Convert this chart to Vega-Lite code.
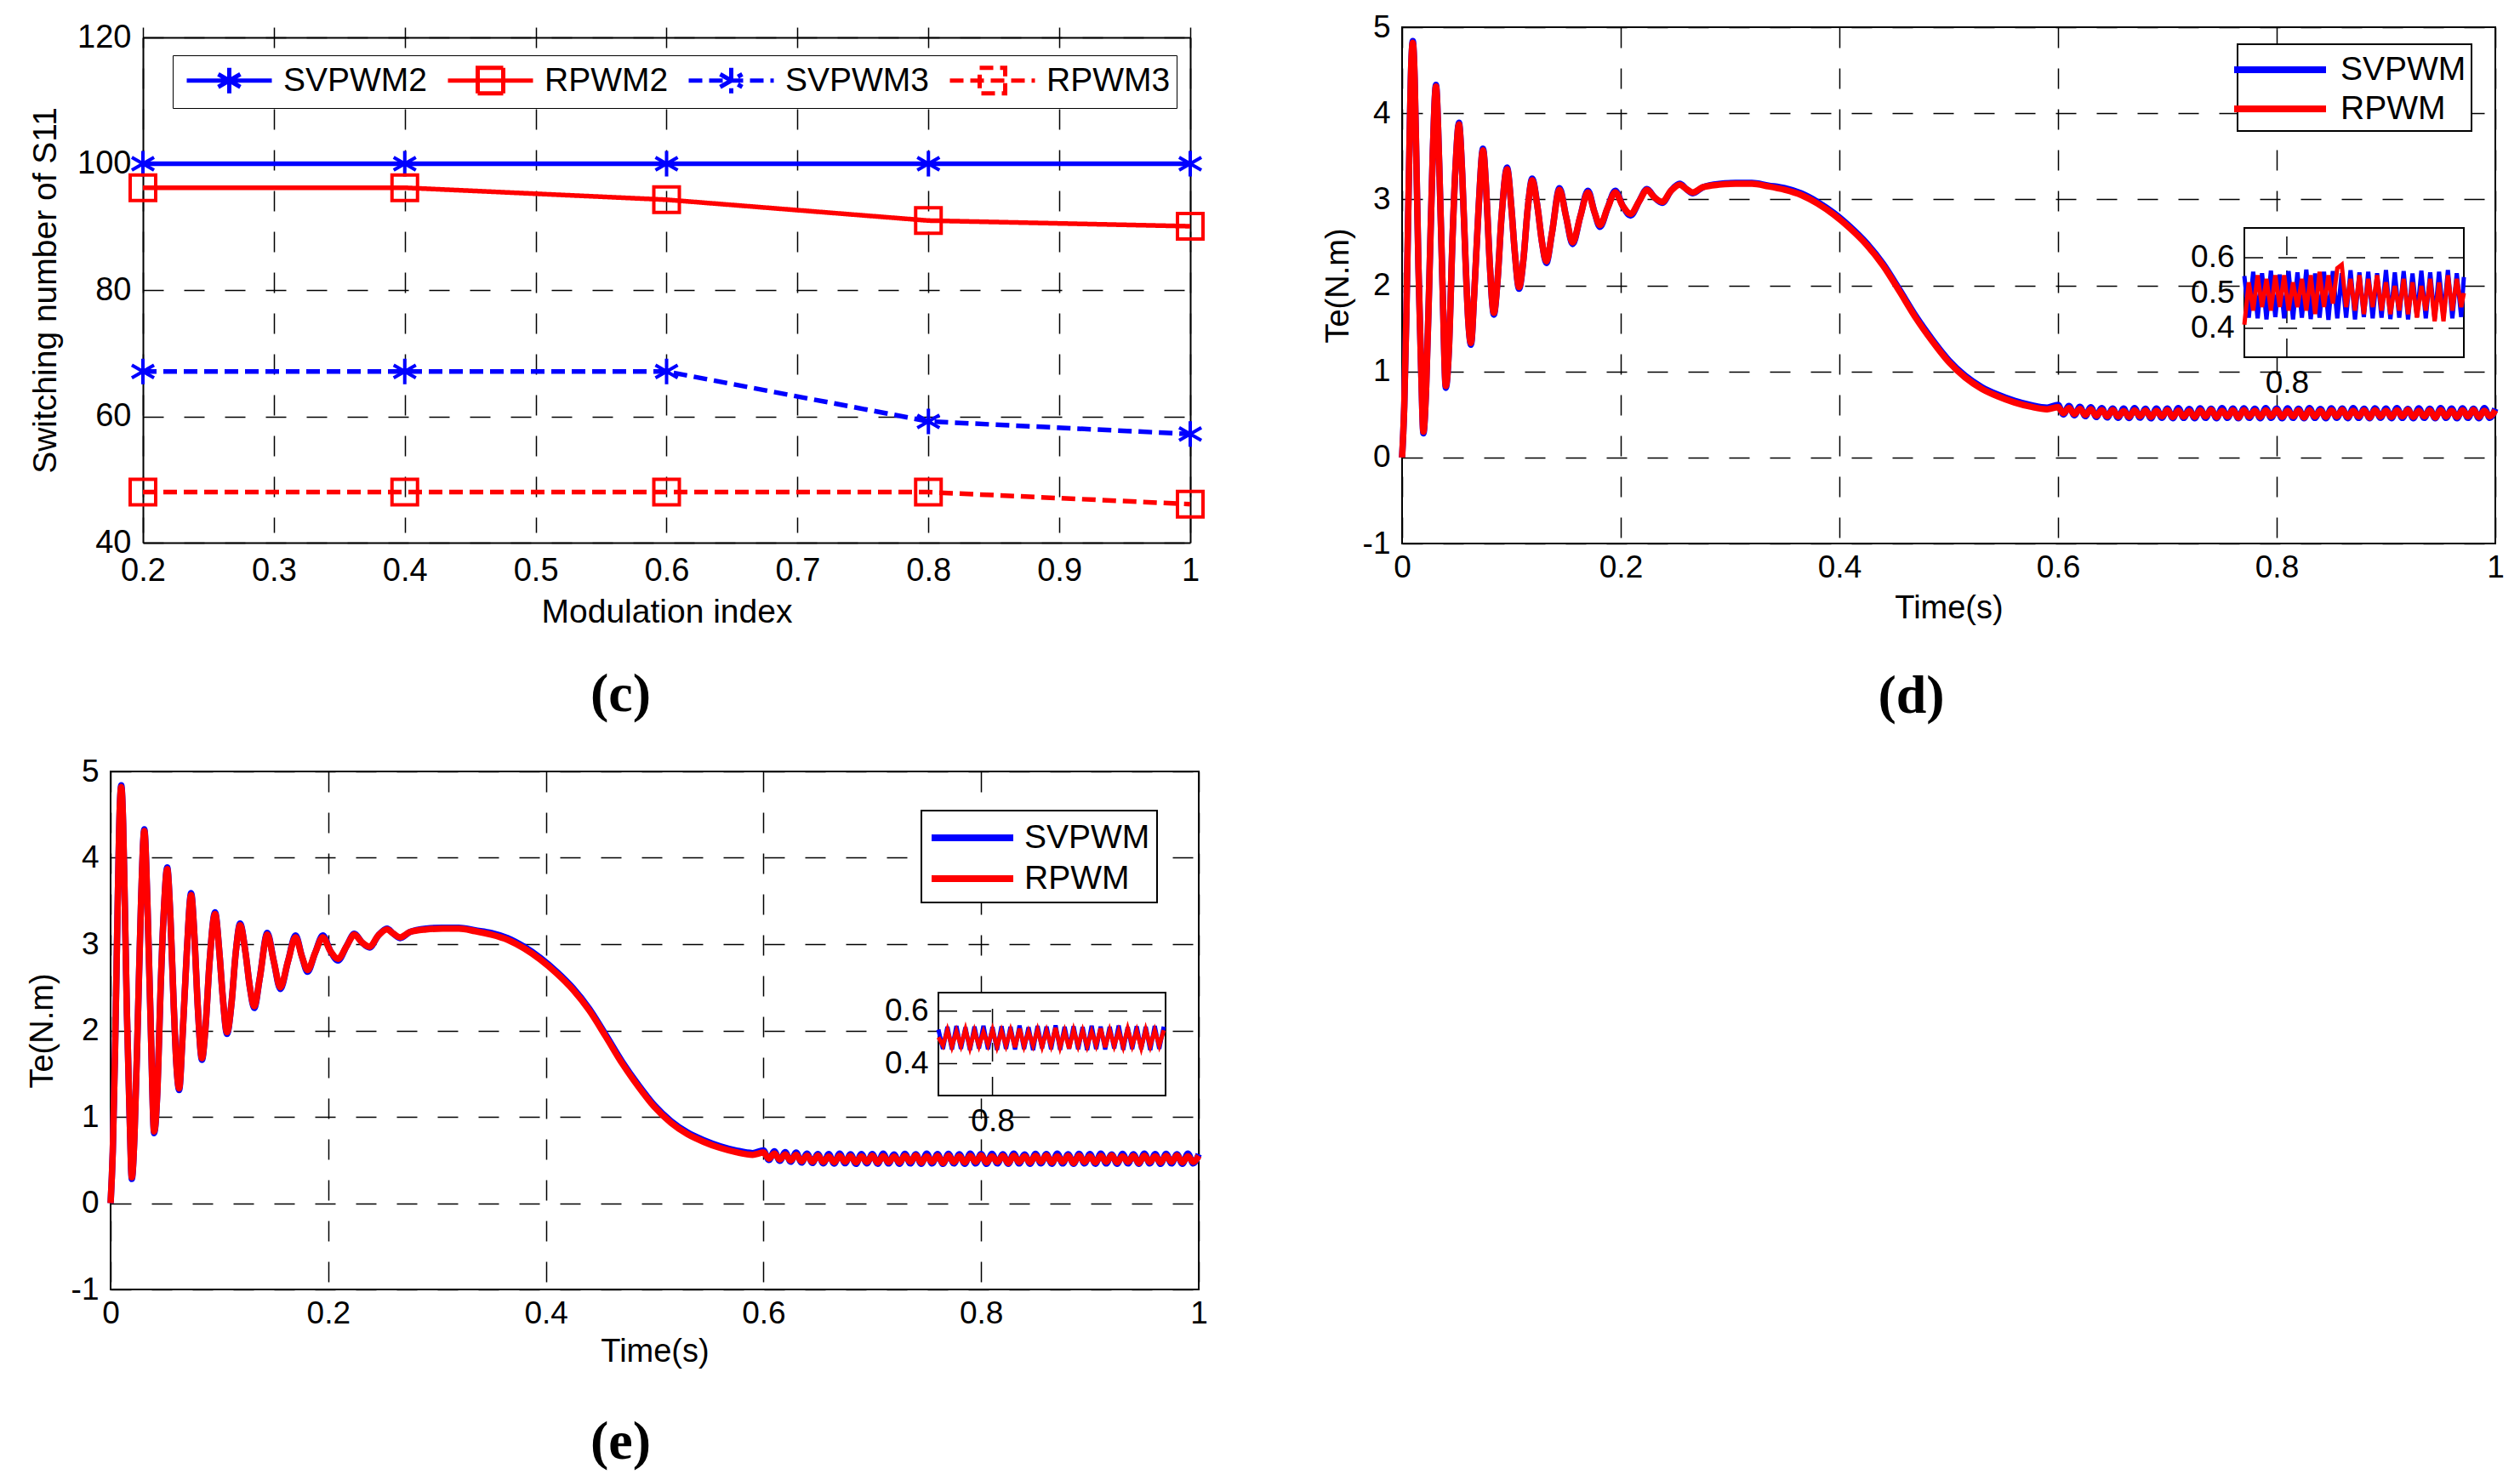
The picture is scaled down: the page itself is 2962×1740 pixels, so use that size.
{
  "$schema": "https://vega.github.io/schema/vega-lite/v6.json",
  "background": "white",
  "padding": {"left": 30, "top": 12, "right": 5, "bottom": 5},
  "config": {
    "font": "Liberation Sans",
    "view": {"stroke": "black", "strokeWidth": 2},
    "axis": {
      "labelFont": "Liberation Sans", "labelFontSize": 37, "labelColor": "black",
      "titleFont": "Liberation Sans", "titleFontSize": 38, "titleFontWeight": "normal", "titleColor": "black",
      "gridColor": "black", "gridOpacity": 1, "gridWidth": 1.5, "gridDash": [24, 24],
      "ticks": false, "domain": false, "labelFlush": false, "labelOverlap": false
    },
    "legend": {"labelFont": "Liberation Sans", "labelFontSize": 39, "labelColor": "black", "labelLimit": 400}
  },
  "datasets": {
    "torque": [
      {"t": 0, "SVPWM": 0, "RPWM": 0},
      {"t": 0.002, "SVPWM": 0.6, "RPWM": 0.6},
      {"t": 0.004, "SVPWM": 1.7, "RPWM": 1.7},
      {"t": 0.006, "SVPWM": 3.1, "RPWM": 3.1},
      {"t": 0.0085, "SVPWM": 4.6, "RPWM": 4.6},
      {"t": 0.0098, "SVPWM": 4.84, "RPWM": 4.82},
      {"t": 0.0115, "SVPWM": 4.4, "RPWM": 4.4},
      {"t": 0.013, "SVPWM": 3.5, "RPWM": 3.5},
      {"t": 0.015, "SVPWM": 2.2, "RPWM": 2.2},
      {"t": 0.0175, "SVPWM": 1.0, "RPWM": 1.0},
      {"t": 0.0195, "SVPWM": 0.28, "RPWM": 0.3},
      {"t": 0.022, "SVPWM": 0.8, "RPWM": 0.8},
      {"t": 0.025, "SVPWM": 2.1, "RPWM": 2.1},
      {"t": 0.028, "SVPWM": 3.5, "RPWM": 3.5},
      {"t": 0.031, "SVPWM": 4.33, "RPWM": 4.31},
      {"t": 0.034, "SVPWM": 3.4, "RPWM": 3.4},
      {"t": 0.037, "SVPWM": 2.0, "RPWM": 2.0},
      {"t": 0.04, "SVPWM": 0.81, "RPWM": 0.83},
      {"t": 0.043, "SVPWM": 1.3, "RPWM": 1.3},
      {"t": 0.046, "SVPWM": 2.5, "RPWM": 2.5},
      {"t": 0.049, "SVPWM": 3.4, "RPWM": 3.4},
      {"t": 0.052, "SVPWM": 3.89, "RPWM": 3.87},
      {"t": 0.055, "SVPWM": 3.3, "RPWM": 3.3},
      {"t": 0.058, "SVPWM": 2.3, "RPWM": 2.3},
      {"t": 0.0605, "SVPWM": 1.6, "RPWM": 1.6},
      {"t": 0.063, "SVPWM": 1.31, "RPWM": 1.33},
      {"t": 0.066, "SVPWM": 1.9, "RPWM": 1.9},
      {"t": 0.07, "SVPWM": 2.9, "RPWM": 2.9},
      {"t": 0.074, "SVPWM": 3.59, "RPWM": 3.57},
      {"t": 0.077, "SVPWM": 3.1, "RPWM": 3.1},
      {"t": 0.08, "SVPWM": 2.3, "RPWM": 2.3},
      {"t": 0.084, "SVPWM": 1.66, "RPWM": 1.68},
      {"t": 0.087, "SVPWM": 2.0, "RPWM": 2.0},
      {"t": 0.091, "SVPWM": 2.8, "RPWM": 2.8},
      {"t": 0.096, "SVPWM": 3.37, "RPWM": 3.35},
      {"t": 0.1, "SVPWM": 2.9, "RPWM": 2.9},
      {"t": 0.103, "SVPWM": 2.4, "RPWM": 2.4},
      {"t": 0.107, "SVPWM": 1.96, "RPWM": 1.98},
      {"t": 0.111, "SVPWM": 2.3, "RPWM": 2.3},
      {"t": 0.115, "SVPWM": 2.9, "RPWM": 2.9},
      {"t": 0.119, "SVPWM": 3.24, "RPWM": 3.22},
      {"t": 0.124, "SVPWM": 2.9, "RPWM": 2.9},
      {"t": 0.128, "SVPWM": 2.5, "RPWM": 2.5},
      {"t": 0.132, "SVPWM": 2.26, "RPWM": 2.28},
      {"t": 0.137, "SVPWM": 2.6, "RPWM": 2.6},
      {"t": 0.144, "SVPWM": 3.13, "RPWM": 3.11},
      {"t": 0.15, "SVPWM": 2.8, "RPWM": 2.8},
      {"t": 0.156, "SVPWM": 2.48, "RPWM": 2.5},
      {"t": 0.163, "SVPWM": 2.8, "RPWM": 2.8},
      {"t": 0.17, "SVPWM": 3.1, "RPWM": 3.08},
      {"t": 0.176, "SVPWM": 2.85, "RPWM": 2.85},
      {"t": 0.181, "SVPWM": 2.68, "RPWM": 2.7},
      {"t": 0.188, "SVPWM": 2.9, "RPWM": 2.9},
      {"t": 0.195, "SVPWM": 3.1, "RPWM": 3.08},
      {"t": 0.202, "SVPWM": 2.92, "RPWM": 2.92},
      {"t": 0.209, "SVPWM": 2.81, "RPWM": 2.83},
      {"t": 0.217, "SVPWM": 2.98, "RPWM": 2.98},
      {"t": 0.224, "SVPWM": 3.12, "RPWM": 3.11},
      {"t": 0.231, "SVPWM": 3.02, "RPWM": 3.02},
      {"t": 0.238, "SVPWM": 2.96, "RPWM": 2.97},
      {"t": 0.246, "SVPWM": 3.1, "RPWM": 3.1},
      {"t": 0.254, "SVPWM": 3.18, "RPWM": 3.17},
      {"t": 0.26, "SVPWM": 3.12, "RPWM": 3.12},
      {"t": 0.266, "SVPWM": 3.07, "RPWM": 3.08},
      {"t": 0.275, "SVPWM": 3.14, "RPWM": 3.14},
      {"t": 0.29, "SVPWM": 3.18, "RPWM": 3.17},
      {"t": 0.305, "SVPWM": 3.19, "RPWM": 3.18},
      {"t": 0.32, "SVPWM": 3.19, "RPWM": 3.18},
      {"t": 0.335, "SVPWM": 3.16, "RPWM": 3.15},
      {"t": 0.35, "SVPWM": 3.13, "RPWM": 3.11},
      {"t": 0.365, "SVPWM": 3.07, "RPWM": 3.05},
      {"t": 0.38, "SVPWM": 2.97, "RPWM": 2.95},
      {"t": 0.395, "SVPWM": 2.84, "RPWM": 2.82},
      {"t": 0.41, "SVPWM": 2.68, "RPWM": 2.66},
      {"t": 0.425, "SVPWM": 2.49, "RPWM": 2.47},
      {"t": 0.44, "SVPWM": 2.25, "RPWM": 2.23},
      {"t": 0.455, "SVPWM": 1.95, "RPWM": 1.93},
      {"t": 0.47, "SVPWM": 1.64, "RPWM": 1.62},
      {"t": 0.485, "SVPWM": 1.37, "RPWM": 1.35},
      {"t": 0.5, "SVPWM": 1.13, "RPWM": 1.11},
      {"t": 0.515, "SVPWM": 0.95, "RPWM": 0.93},
      {"t": 0.53, "SVPWM": 0.82, "RPWM": 0.8},
      {"t": 0.545, "SVPWM": 0.73, "RPWM": 0.71},
      {"t": 0.56, "SVPWM": 0.66, "RPWM": 0.64},
      {"t": 0.575, "SVPWM": 0.61, "RPWM": 0.59},
      {"t": 0.59, "SVPWM": 0.58, "RPWM": 0.56},
      {"t": 0.6, "SVPWM": 0.61, "RPWM": 0.585},
      {"t": 0.605, "SVPWM": 0.5, "RPWM": 0.515},
      {"t": 0.61, "SVPWM": 0.6, "RPWM": 0.575},
      {"t": 0.615, "SVPWM": 0.49, "RPWM": 0.505},
      {"t": 0.62, "SVPWM": 0.59, "RPWM": 0.565},
      {"t": 0.625, "SVPWM": 0.48, "RPWM": 0.495},
      {"t": 0.63, "SVPWM": 0.585, "RPWM": 0.56},
      {"t": 0.635, "SVPWM": 0.47, "RPWM": 0.485},
      {"t": 0.64, "SVPWM": 0.575, "RPWM": 0.55},
      {"t": 0.645, "SVPWM": 0.465, "RPWM": 0.48},
      {"t": 0.65, "SVPWM": 0.57, "RPWM": 0.55},
      {"t": 0.655, "SVPWM": 0.46, "RPWM": 0.478},
      {"t": 0.66, "SVPWM": 0.568, "RPWM": 0.54},
      {"t": 0.665, "SVPWM": 0.458, "RPWM": 0.474},
      {"t": 0.67, "SVPWM": 0.575, "RPWM": 0.548},
      {"t": 0.675, "SVPWM": 0.462, "RPWM": 0.48},
      {"t": 0.68, "SVPWM": 0.566, "RPWM": 0.545},
      {"t": 0.685, "SVPWM": 0.455, "RPWM": 0.472},
      {"t": 0.69, "SVPWM": 0.57, "RPWM": 0.542},
      {"t": 0.695, "SVPWM": 0.46, "RPWM": 0.478},
      {"t": 0.7, "SVPWM": 0.568, "RPWM": 0.55},
      {"t": 0.705, "SVPWM": 0.456, "RPWM": 0.47},
      {"t": 0.71, "SVPWM": 0.575, "RPWM": 0.545},
      {"t": 0.715, "SVPWM": 0.46, "RPWM": 0.476},
      {"t": 0.72, "SVPWM": 0.565, "RPWM": 0.54},
      {"t": 0.725, "SVPWM": 0.455, "RPWM": 0.472},
      {"t": 0.73, "SVPWM": 0.572, "RPWM": 0.548},
      {"t": 0.735, "SVPWM": 0.46, "RPWM": 0.478},
      {"t": 0.74, "SVPWM": 0.566, "RPWM": 0.552},
      {"t": 0.745, "SVPWM": 0.456, "RPWM": 0.47},
      {"t": 0.75, "SVPWM": 0.575, "RPWM": 0.543},
      {"t": 0.755, "SVPWM": 0.46, "RPWM": 0.478},
      {"t": 0.76, "SVPWM": 0.568, "RPWM": 0.548},
      {"t": 0.765, "SVPWM": 0.455, "RPWM": 0.466},
      {"t": 0.77, "SVPWM": 0.572, "RPWM": 0.55},
      {"t": 0.775, "SVPWM": 0.46, "RPWM": 0.476},
      {"t": 0.78, "SVPWM": 0.566, "RPWM": 0.542},
      {"t": 0.785, "SVPWM": 0.456, "RPWM": 0.472},
      {"t": 0.79, "SVPWM": 0.575, "RPWM": 0.548},
      {"t": 0.795, "SVPWM": 0.46, "RPWM": 0.478},
      {"t": 0.8, "SVPWM": 0.568, "RPWM": 0.552},
      {"t": 0.805, "SVPWM": 0.455, "RPWM": 0.472},
      {"t": 0.81, "SVPWM": 0.572, "RPWM": 0.542},
      {"t": 0.815, "SVPWM": 0.46, "RPWM": 0.478},
      {"t": 0.82, "SVPWM": 0.566, "RPWM": 0.548},
      {"t": 0.825, "SVPWM": 0.456, "RPWM": 0.466},
      {"t": 0.83, "SVPWM": 0.575, "RPWM": 0.55},
      {"t": 0.835, "SVPWM": 0.46, "RPWM": 0.476},
      {"t": 0.84, "SVPWM": 0.565, "RPWM": 0.542},
      {"t": 0.845, "SVPWM": 0.455, "RPWM": 0.472},
      {"t": 0.85, "SVPWM": 0.572, "RPWM": 0.548},
      {"t": 0.855, "SVPWM": 0.46, "RPWM": 0.478},
      {"t": 0.86, "SVPWM": 0.568, "RPWM": 0.552},
      {"t": 0.865, "SVPWM": 0.456, "RPWM": 0.472},
      {"t": 0.87, "SVPWM": 0.575, "RPWM": 0.542},
      {"t": 0.875, "SVPWM": 0.46, "RPWM": 0.478},
      {"t": 0.88, "SVPWM": 0.566, "RPWM": 0.548},
      {"t": 0.885, "SVPWM": 0.455, "RPWM": 0.466},
      {"t": 0.89, "SVPWM": 0.572, "RPWM": 0.55},
      {"t": 0.895, "SVPWM": 0.46, "RPWM": 0.476},
      {"t": 0.9, "SVPWM": 0.568, "RPWM": 0.542},
      {"t": 0.905, "SVPWM": 0.456, "RPWM": 0.472},
      {"t": 0.91, "SVPWM": 0.575, "RPWM": 0.548},
      {"t": 0.915, "SVPWM": 0.46, "RPWM": 0.478},
      {"t": 0.92, "SVPWM": 0.565, "RPWM": 0.552},
      {"t": 0.925, "SVPWM": 0.455, "RPWM": 0.472},
      {"t": 0.93, "SVPWM": 0.572, "RPWM": 0.542},
      {"t": 0.935, "SVPWM": 0.46, "RPWM": 0.478},
      {"t": 0.94, "SVPWM": 0.566, "RPWM": 0.548},
      {"t": 0.945, "SVPWM": 0.456, "RPWM": 0.466},
      {"t": 0.95, "SVPWM": 0.575, "RPWM": 0.55},
      {"t": 0.955, "SVPWM": 0.46, "RPWM": 0.476},
      {"t": 0.96, "SVPWM": 0.568, "RPWM": 0.542},
      {"t": 0.965, "SVPWM": 0.455, "RPWM": 0.472},
      {"t": 0.97, "SVPWM": 0.572, "RPWM": 0.548},
      {"t": 0.975, "SVPWM": 0.46, "RPWM": 0.478},
      {"t": 0.98, "SVPWM": 0.566, "RPWM": 0.552},
      {"t": 0.985, "SVPWM": 0.456, "RPWM": 0.472},
      {"t": 0.99, "SVPWM": 0.575, "RPWM": 0.542},
      {"t": 0.995, "SVPWM": 0.46, "RPWM": 0.478},
      {"t": 1.0, "SVPWM": 0.568, "RPWM": 0.548}
    ],
    "inset_d": [
      {"t": 0.788, "SVPWM": 0.548, "RPWM": 0.41},
      {"t": 0.78925, "SVPWM": 0.43, "RPWM": 0.53},
      {"t": 0.7905, "SVPWM": 0.56, "RPWM": 0.45},
      {"t": 0.79175, "SVPWM": 0.428, "RPWM": 0.55},
      {"t": 0.793, "SVPWM": 0.556, "RPWM": 0.46},
      {"t": 0.79425, "SVPWM": 0.425, "RPWM": 0.54},
      {"t": 0.7955, "SVPWM": 0.563, "RPWM": 0.45},
      {"t": 0.79675, "SVPWM": 0.432, "RPWM": 0.55},
      {"t": 0.798, "SVPWM": 0.552, "RPWM": 0.46},
      {"t": 0.79925, "SVPWM": 0.428, "RPWM": 0.55},
      {"t": 0.8005, "SVPWM": 0.562, "RPWM": 0.45},
      {"t": 0.80175, "SVPWM": 0.425, "RPWM": 0.53},
      {"t": 0.803, "SVPWM": 0.558, "RPWM": 0.46},
      {"t": 0.80425, "SVPWM": 0.43, "RPWM": 0.54},
      {"t": 0.8055, "SVPWM": 0.566, "RPWM": 0.45},
      {"t": 0.80675, "SVPWM": 0.426, "RPWM": 0.55},
      {"t": 0.808, "SVPWM": 0.555, "RPWM": 0.44},
      {"t": 0.80925, "SVPWM": 0.43, "RPWM": 0.56},
      {"t": 0.8105, "SVPWM": 0.56, "RPWM": 0.46},
      {"t": 0.81175, "SVPWM": 0.424, "RPWM": 0.55},
      {"t": 0.813, "SVPWM": 0.562, "RPWM": 0.47},
      {"t": 0.81425, "SVPWM": 0.428, "RPWM": 0.57},
      {"t": 0.8155, "SVPWM": 0.556, "RPWM": 0.58},
      {"t": 0.81675, "SVPWM": 0.43, "RPWM": 0.46},
      {"t": 0.818, "SVPWM": 0.564, "RPWM": 0.54},
      {"t": 0.81925, "SVPWM": 0.425, "RPWM": 0.45},
      {"t": 0.8205, "SVPWM": 0.558, "RPWM": 0.55},
      {"t": 0.82175, "SVPWM": 0.432, "RPWM": 0.44},
      {"t": 0.823, "SVPWM": 0.56, "RPWM": 0.54},
      {"t": 0.82425, "SVPWM": 0.428, "RPWM": 0.46},
      {"t": 0.8255, "SVPWM": 0.556, "RPWM": 0.55},
      {"t": 0.82675, "SVPWM": 0.43, "RPWM": 0.45},
      {"t": 0.828, "SVPWM": 0.565, "RPWM": 0.53},
      {"t": 0.82925, "SVPWM": 0.426, "RPWM": 0.44},
      {"t": 0.8305, "SVPWM": 0.558, "RPWM": 0.52},
      {"t": 0.83175, "SVPWM": 0.43, "RPWM": 0.45},
      {"t": 0.833, "SVPWM": 0.562, "RPWM": 0.54},
      {"t": 0.83425, "SVPWM": 0.425, "RPWM": 0.44},
      {"t": 0.8355, "SVPWM": 0.555, "RPWM": 0.53},
      {"t": 0.83675, "SVPWM": 0.432, "RPWM": 0.43},
      {"t": 0.838, "SVPWM": 0.563, "RPWM": 0.52},
      {"t": 0.83925, "SVPWM": 0.428, "RPWM": 0.45},
      {"t": 0.8405, "SVPWM": 0.558, "RPWM": 0.54},
      {"t": 0.84175, "SVPWM": 0.426, "RPWM": 0.42},
      {"t": 0.843, "SVPWM": 0.56, "RPWM": 0.53},
      {"t": 0.84425, "SVPWM": 0.43, "RPWM": 0.42},
      {"t": 0.8455, "SVPWM": 0.565, "RPWM": 0.55},
      {"t": 0.84675, "SVPWM": 0.428, "RPWM": 0.45},
      {"t": 0.848, "SVPWM": 0.556, "RPWM": 0.54},
      {"t": 0.84925, "SVPWM": 0.432, "RPWM": 0.46},
      {"t": 0.85, "SVPWM": 0.545, "RPWM": 0.5}
    ],
    "inset_e": [
      {"t": 0.785, "SVPWM": 0.53, "RPWM": 0.5},
      {"t": 0.78625, "SVPWM": 0.456, "RPWM": 0.47},
      {"t": 0.7875, "SVPWM": 0.54, "RPWM": 0.527},
      {"t": 0.78875, "SVPWM": 0.454, "RPWM": 0.466},
      {"t": 0.79, "SVPWM": 0.543, "RPWM": 0.522},
      {"t": 0.79125, "SVPWM": 0.457, "RPWM": 0.47},
      {"t": 0.7925, "SVPWM": 0.538, "RPWM": 0.53},
      {"t": 0.79375, "SVPWM": 0.452, "RPWM": 0.462},
      {"t": 0.795, "SVPWM": 0.541, "RPWM": 0.524},
      {"t": 0.79625, "SVPWM": 0.458, "RPWM": 0.468},
      {"t": 0.7975, "SVPWM": 0.544, "RPWM": 0.52},
      {"t": 0.79875, "SVPWM": 0.455, "RPWM": 0.472},
      {"t": 0.8, "SVPWM": 0.539, "RPWM": 0.528},
      {"t": 0.80125, "SVPWM": 0.453, "RPWM": 0.465},
      {"t": 0.8025, "SVPWM": 0.542, "RPWM": 0.523},
      {"t": 0.80375, "SVPWM": 0.457, "RPWM": 0.47},
      {"t": 0.805, "SVPWM": 0.54, "RPWM": 0.526},
      {"t": 0.80625, "SVPWM": 0.454, "RPWM": 0.463},
      {"t": 0.8075, "SVPWM": 0.545, "RPWM": 0.533},
      {"t": 0.80875, "SVPWM": 0.456, "RPWM": 0.468},
      {"t": 0.81, "SVPWM": 0.538, "RPWM": 0.521},
      {"t": 0.81125, "SVPWM": 0.452, "RPWM": 0.471},
      {"t": 0.8125, "SVPWM": 0.543, "RPWM": 0.528},
      {"t": 0.81375, "SVPWM": 0.458, "RPWM": 0.466},
      {"t": 0.815, "SVPWM": 0.541, "RPWM": 0.524},
      {"t": 0.81625, "SVPWM": 0.455, "RPWM": 0.47},
      {"t": 0.8175, "SVPWM": 0.546, "RPWM": 0.536},
      {"t": 0.81875, "SVPWM": 0.453, "RPWM": 0.464},
      {"t": 0.82, "SVPWM": 0.54, "RPWM": 0.522},
      {"t": 0.82125, "SVPWM": 0.457, "RPWM": 0.458},
      {"t": 0.8225, "SVPWM": 0.542, "RPWM": 0.527},
      {"t": 0.82375, "SVPWM": 0.455, "RPWM": 0.469},
      {"t": 0.825, "SVPWM": 0.539, "RPWM": 0.525},
      {"t": 0.82625, "SVPWM": 0.452, "RPWM": 0.467},
      {"t": 0.8275, "SVPWM": 0.544, "RPWM": 0.521},
      {"t": 0.82875, "SVPWM": 0.456, "RPWM": 0.471},
      {"t": 0.83, "SVPWM": 0.541, "RPWM": 0.534},
      {"t": 0.83125, "SVPWM": 0.454, "RPWM": 0.463},
      {"t": 0.8325, "SVPWM": 0.54, "RPWM": 0.526},
      {"t": 0.83375, "SVPWM": 0.458, "RPWM": 0.469},
      {"t": 0.835, "SVPWM": 0.545, "RPWM": 0.523},
      {"t": 0.83625, "SVPWM": 0.453, "RPWM": 0.466},
      {"t": 0.8375, "SVPWM": 0.539, "RPWM": 0.532},
      {"t": 0.83875, "SVPWM": 0.456, "RPWM": 0.47},
      {"t": 0.84, "SVPWM": 0.542, "RPWM": 0.524},
      {"t": 0.84125, "SVPWM": 0.455, "RPWM": 0.461},
      {"t": 0.8425, "SVPWM": 0.54, "RPWM": 0.528},
      {"t": 0.84375, "SVPWM": 0.452, "RPWM": 0.468},
      {"t": 0.845, "SVPWM": 0.543, "RPWM": 0.525},
      {"t": 0.84625, "SVPWM": 0.457, "RPWM": 0.47},
      {"t": 0.8475, "SVPWM": 0.541, "RPWM": 0.527}
    ]
  },
  "columns": 2,
  "spacing": {"row": 268, "column": 239},
  "bounds": "flush",
  "resolve": {"scale": {"color": "independent", "strokeDash": "independent", "shape": "independent"}},
  "concat": [
    {
      "width": 1269,
      "height": 606,
      "view": {"stroke": null},
      "title": {"text": "(c)", "orient": "bottom", "anchor": "middle", "frame": "group", "font": "Liberation Serif", "fontSize": 64, "fontWeight": "bold", "color": "black", "offset": 46, "dx": -35},
      "data": {"values": [
        {"m": 0.2, "n": 100, "series": "SVPWM2"},
        {"m": 0.4, "n": 100, "series": "SVPWM2"},
        {"m": 0.6, "n": 100, "series": "SVPWM2"},
        {"m": 0.8, "n": 100, "series": "SVPWM2"},
        {"m": 1.0, "n": 100, "series": "SVPWM2"},
        {"m": 0.2, "n": 96.2, "series": "RPWM2"},
        {"m": 0.4, "n": 96.2, "series": "RPWM2"},
        {"m": 0.6, "n": 94.3, "series": "RPWM2"},
        {"m": 0.8, "n": 91, "series": "RPWM2"},
        {"m": 1.0, "n": 90.1, "series": "RPWM2"},
        {"m": 0.2, "n": 67.1, "series": "SVPWM3"},
        {"m": 0.4, "n": 67.1, "series": "SVPWM3"},
        {"m": 0.6, "n": 67.1, "series": "SVPWM3"},
        {"m": 0.8, "n": 59.2, "series": "SVPWM3"},
        {"m": 1.0, "n": 57.2, "series": "SVPWM3"},
        {"m": 0.2, "n": 48, "series": "RPWM3"},
        {"m": 0.4, "n": 48, "series": "RPWM3"},
        {"m": 0.6, "n": 48, "series": "RPWM3"},
        {"m": 0.8, "n": 48, "series": "RPWM3"},
        {"m": 1.0, "n": 46.1, "series": "RPWM3"}
      ]},
      "layer": [
        {
          "mark": {"type": "line", "strokeWidth": 5.5},
          "encoding": {
            "x": {"field": "m", "type": "quantitative",
              "scale": {"domain": [0.2, 1], "range": [38, 1269], "nice": false, "zero": false},
              "axis": {"orient": "bottom", "values": [0.2, 0.3, 0.4, 0.5, 0.6, 0.7, 0.8, 0.9, 1], "format": "~g", "grid": true, "domain": true, "domainColor": "black", "domainWidth": 2, "title": "Modulation index", "titleFontSize": 39, "labelFontSize": 38, "labelPadding": 14, "titleY": 81, "titleBaseline": "middle"}},
            "y": {"field": "n", "type": "quantitative",
              "scale": {"domain": [40, 120], "range": [606, 12], "nice": false, "zero": false},
              "axis": {"orient": "left", "offset": -38, "values": [40, 60, 80, 100, 120], "grid": true, "domain": true, "domainColor": "black", "domainWidth": 2, "title": "Switching number of  S11", "titleFontSize": 39, "labelFontSize": 38, "labelPadding": 14, "titleX": -115, "titleBaseline": "middle"}},
            "color": {"field": "series", "type": "nominal",
              "scale": {"domain": ["SVPWM2", "RPWM2", "SVPWM3", "RPWM3"], "range": ["#0000ff", "#ff0000", "#0000ff", "#ff0000"]},
              "legend": {"title": null, "orient": "none", "legendX": 73, "legendY": 33, "direction": "horizontal", "columns": 4, "padding": 7, "columnPadding": 13, "symbolSize": 1600, "symbolStrokeWidth": 5, "symbolOpacity": 1, "symbolOffset": 37, "labelOffset": 41, "labelFontSize": 39, "labelLimit": 400, "strokeColor": "black", "fillColor": "white", "symbolFillColor": "transparent"}},
            "strokeDash": {"field": "series", "type": "nominal",
              "scale": {"domain": ["SVPWM2", "RPWM2", "SVPWM3", "RPWM3"], "range": [[1, 0], [1, 0], [16, 8], [16, 8]]}}
          }
        },
        {
          "transform": [{"filter": "indexof(datum.series, 'SV') === 0"}],
          "mark": {"type": "point", "shape": "M0,-1V1M-0.87,-0.5L0.87,0.5M-0.87,0.5L0.87,-0.5", "filled": false, "strokeWidth": 4, "size": 900, "opacity": 1},
          "encoding": {
            "x": {"field": "m", "type": "quantitative",
              "scale": {"domain": [0.2, 1], "range": [38, 1269], "nice": false, "zero": false},
              "axis": {"orient": "top", "offset": -12, "labels": false, "grid": false, "domain": true, "domainColor": "black", "domainWidth": 2, "title": null}},
            "y": {"field": "n", "type": "quantitative",
              "scale": {"domain": [40, 120], "range": [606, 12], "nice": false, "zero": false},
              "axis": {"orient": "right", "labels": false, "grid": false, "domain": true, "domainColor": "black", "domainWidth": 2, "title": null}},
            "color": {"field": "series", "type": "nominal"}
          }
        },
        {
          "transform": [{"filter": "indexof(datum.series, 'RP') === 0"}],
          "mark": {"type": "point", "shape": "square", "filled": false, "strokeWidth": 4, "size": 900, "opacity": 1},
          "encoding": {
            "x": {"field": "m", "type": "quantitative", "axis": null},
            "y": {"field": "n", "type": "quantitative", "axis": null},
            "color": {"field": "series", "type": "nominal"}
          }
        },
        {
          "mark": {"type": "point", "filled": false, "strokeWidth": 5, "size": 1600, "opacity": 0},
          "encoding": {
            "x": {"field": "m", "type": "quantitative", "axis": null},
            "y": {"field": "n", "type": "quantitative", "axis": null},
            "color": {"field": "series", "type": "nominal"},
            "strokeDash": {"field": "series", "type": "nominal"},
            "shape": {"field": "series", "type": "nominal",
              "scale": {"domain": ["SVPWM2", "RPWM2", "SVPWM3", "RPWM3"], "range": [
                "M-2.5,0H2.5M0,-0.75V0.75M-0.65,-0.375L0.65,0.375M-0.65,0.375L0.65,-0.375",
                "M-2.5,0H2.5M-0.75,-0.75H0.75V0.75H-0.75Z",
                "M-2.5,0H2.5M0,-0.75V0.75M-0.65,-0.375L0.65,0.375M-0.65,0.375L0.65,-0.375",
                "M-2.5,0H2.5M-0.75,-0.75H0.75V0.75H-0.75Z"]},
              "legend": {"title": null, "orient": "none", "legendX": 73, "legendY": 33, "direction": "horizontal", "columns": 4, "padding": 7, "columnPadding": 13, "symbolSize": 1600, "symbolStrokeWidth": 5, "symbolOpacity": 1, "symbolOffset": 37, "labelOffset": 41, "labelFontSize": 39, "labelLimit": 400, "strokeColor": "black", "fillColor": "white", "symbolFillColor": "transparent"}}
          }
        }
      ],
      "resolve": {"axis": {"x": "independent", "y": "independent"}}
    },
    {
      "width": 1285,
      "height": 607,
      "title": {"text": "(d)", "orient": "bottom", "anchor": "middle", "frame": "group", "font": "Liberation Serif", "fontSize": 64, "fontWeight": "bold", "color": "black", "offset": 53, "dx": -44},
      "layer": [
        {
          "data": {"name": "torque"},
          "mark": {"type": "line", "strokeWidth": 7.5, "interpolate": "monotone"},
          "encoding": {
            "x": {"field": "t", "type": "quantitative", "scale": {"domain": [0, 1], "nice": false, "zero": false},
              "axis": {"orient": "bottom", "values": [0, 0.2, 0.4, 0.6, 0.8, 1], "format": "~g", "grid": true, "title": "Time(s)", "labelPadding": 10, "titleY": 76, "titleBaseline": "middle"}},
            "y": {"field": "SVPWM", "type": "quantitative", "scale": {"domain": [-1, 5], "nice": false, "zero": false},
              "axis": {"orient": "left", "values": [-1, 0, 1, 2, 3, 4, 5], "format": "~g", "labelExpr": "replace(datum.label, '\u2212', '-')", "grid": true, "title": "Te(N.m)", "labelPadding": 14, "titleX": -75, "titleBaseline": "middle"}},
            "color": {"datum": "SVPWM", "type": "nominal",
              "scale": {"domain": ["SVPWM", "RPWM"], "range": ["#0000ff", "#ff0000"]},
              "legend": {"title": null, "orient": "none", "legendX": 982, "legendY": 20, "direction": "vertical", "padding": 6, "rowPadding": 2, "symbolType": "M-2.7,0H2.7", "symbolSize": 1600, "symbolStrokeWidth": 8, "symbolOffset": 20, "labelOffset": 47, "labelFontSize": 39, "strokeColor": "black", "fillColor": "white",
                "encode": {"legend": {"update": {"strokeWidth": {"value": 2}}}}}}
          }
        },
        {
          "data": {"name": "torque"},
          "mark": {"type": "line", "strokeWidth": 7.5, "interpolate": "monotone"},
          "encoding": {
            "x": {"field": "t", "type": "quantitative", "scale": {"domain": [0, 1], "nice": false, "zero": false}, "axis": null},
            "y": {"field": "RPWM", "type": "quantitative", "scale": {"domain": [-1, 5], "nice": false, "zero": false}, "axis": null},
            "color": {"datum": "RPWM", "type": "nominal"}
          }
        },
        {
          "data": {"values": [{"t": 0.788, "t2": 0.85, "v": 0.318, "v2": 0.684}]},
          "mark": {"type": "rect", "fill": "white", "stroke": "black", "strokeWidth": 2},
          "encoding": {
            "x": {"field": "t", "type": "quantitative", "scale": {"domain": [0.788, 0.85], "range": [990, 1248], "nice": false, "zero": false},
              "axis": {"orient": "bottom", "offset": -219, "values": [0.8], "format": "~g", "grid": false, "title": null, "labelPadding": 12}},
            "x2": {"field": "t2"},
            "y": {"field": "v", "type": "quantitative", "scale": {"domain": [0.318, 0.684], "range": [388, 236], "nice": false, "zero": false},
              "axis": {"orient": "left", "offset": -990, "values": [0.4, 0.5, 0.6], "format": ".1f", "grid": false, "title": null, "labelPadding": 12}},
            "y2": {"field": "v2"}
          }
        },
        {
          "data": {"values": [{"t": 0.788, "t2": 0.85, "v": 0.4}, {"t": 0.788, "t2": 0.85, "v": 0.6}]},
          "mark": {"type": "rule", "color": "black", "strokeWidth": 1.5, "strokeDash": [22, 18]},
          "encoding": {
            "x": {"field": "t", "type": "quantitative", "scale": {"domain": [0.788, 0.85], "range": [990, 1248], "nice": false, "zero": false}, "axis": null},
            "x2": {"field": "t2"},
            "y": {"field": "v", "type": "quantitative", "scale": {"domain": [0.318, 0.684], "range": [388, 236], "nice": false, "zero": false}, "axis": null}
          }
        },
        {
          "data": {"values": [{"t": 0.8, "v": 0.318, "v2": 0.684}]},
          "mark": {"type": "rule", "color": "black", "strokeWidth": 1.5, "strokeDash": [22, 18]},
          "encoding": {
            "x": {"field": "t", "type": "quantitative", "scale": {"domain": [0.788, 0.85], "range": [990, 1248], "nice": false, "zero": false}, "axis": null},
            "y": {"field": "v", "type": "quantitative", "scale": {"domain": [0.318, 0.684], "range": [388, 236], "nice": false, "zero": false}, "axis": null},
            "y2": {"field": "v2"}
          }
        },
        {
          "data": {"name": "inset_d"},
          "mark": {"type": "line", "strokeWidth": 5},
          "encoding": {
            "x": {"field": "t", "type": "quantitative", "scale": {"domain": [0.788, 0.85], "range": [990, 1248], "nice": false, "zero": false}, "axis": null},
            "y": {"field": "SVPWM", "type": "quantitative", "scale": {"domain": [0.318, 0.684], "range": [388, 236], "nice": false, "zero": false}, "axis": null},
            "color": {"datum": "SVPWM", "type": "nominal"}
          }
        },
        {
          "data": {"name": "inset_d"},
          "mark": {"type": "line", "strokeWidth": 5},
          "encoding": {
            "x": {"field": "t", "type": "quantitative", "scale": {"domain": [0.788, 0.85], "range": [990, 1248], "nice": false, "zero": false}, "axis": null},
            "y": {"field": "RPWM", "type": "quantitative", "scale": {"domain": [0.318, 0.684], "range": [388, 236], "nice": false, "zero": false}, "axis": null},
            "color": {"datum": "RPWM", "type": "nominal"}
          }
        }
      ],
      "resolve": {"scale": {"x": "independent", "y": "independent"}}
    },
    {
      "width": 1279,
      "height": 609,
      "title": {"text": "(e)", "orient": "bottom", "anchor": "middle", "frame": "group", "font": "Liberation Serif", "fontSize": 64, "fontWeight": "bold", "color": "black", "offset": 56, "dx": -40},
      "layer": [
        {
          "data": {"name": "torque"},
          "mark": {"type": "line", "strokeWidth": 7.5, "interpolate": "monotone"},
          "encoding": {
            "x": {"field": "t", "type": "quantitative", "scale": {"domain": [0, 1], "nice": false, "zero": false},
              "axis": {"orient": "bottom", "values": [0, 0.2, 0.4, 0.6, 0.8, 1], "format": "~g", "grid": true, "title": "Time(s)", "labelPadding": 10, "titleY": 73, "titleBaseline": "middle"}},
            "y": {"field": "SVPWM", "type": "quantitative", "scale": {"domain": [-1, 5], "nice": false, "zero": false},
              "axis": {"orient": "left", "values": [-1, 0, 1, 2, 3, 4, 5], "format": "~g", "labelExpr": "replace(datum.label, '\u2212', '-')", "grid": true, "title": "Te(N.m)", "labelPadding": 14, "titleX": -80, "titleBaseline": "middle"}},
            "color": {"datum": "SVPWM", "type": "nominal",
              "scale": {"domain": ["SVPWM", "RPWM"], "range": ["#0000ff", "#ff0000"]},
              "legend": {"title": null, "orient": "none", "legendX": 953, "legendY": 46, "direction": "vertical", "padding": 8, "rowPadding": 4, "symbolType": "M-2.4,0H2.4", "symbolSize": 1600, "symbolStrokeWidth": 8, "symbolOffset": 28, "labelOffset": 37, "labelFontSize": 39, "strokeColor": "black", "fillColor": "white",
                "encode": {"legend": {"update": {"strokeWidth": {"value": 2}}}}}}
          }
        },
        {
          "data": {"name": "torque"},
          "mark": {"type": "line", "strokeWidth": 7.5, "interpolate": "monotone"},
          "encoding": {
            "x": {"field": "t", "type": "quantitative", "scale": {"domain": [0, 1], "nice": false, "zero": false}, "axis": null},
            "y": {"field": "RPWM", "type": "quantitative", "scale": {"domain": [-1, 5], "nice": false, "zero": false}, "axis": null},
            "color": {"datum": "RPWM", "type": "nominal"}
          }
        },
        {
          "data": {"values": [{"t": 0.785, "t2": 0.848, "v": 0.279, "v2": 0.67}]},
          "mark": {"type": "rect", "fill": "white", "stroke": "black", "strokeWidth": 2},
          "encoding": {
            "x": {"field": "t", "type": "quantitative", "scale": {"domain": [0.785, 0.848], "range": [973, 1240], "nice": false, "zero": false},
              "axis": {"orient": "bottom", "offset": -228, "values": [0.8], "format": "~g", "grid": false, "title": null, "labelPadding": 12}},
            "x2": {"field": "t2"},
            "y": {"field": "v", "type": "quantitative", "scale": {"domain": [0.279, 0.67], "range": [381, 260], "nice": false, "zero": false},
              "axis": {"orient": "left", "offset": -973, "values": [0.4, 0.6], "format": ".1f", "grid": false, "title": null, "labelPadding": 12}},
            "y2": {"field": "v2"}
          }
        },
        {
          "data": {"values": [{"t": 0.785, "t2": 0.848, "v": 0.4}, {"t": 0.785, "t2": 0.848, "v": 0.6}]},
          "mark": {"type": "rule", "color": "black", "strokeWidth": 1.5, "strokeDash": [22, 18]},
          "encoding": {
            "x": {"field": "t", "type": "quantitative", "scale": {"domain": [0.785, 0.848], "range": [973, 1240], "nice": false, "zero": false}, "axis": null},
            "x2": {"field": "t2"},
            "y": {"field": "v", "type": "quantitative", "scale": {"domain": [0.279, 0.67], "range": [381, 260], "nice": false, "zero": false}, "axis": null}
          }
        },
        {
          "data": {"values": [{"t": 0.8, "v": 0.279, "v2": 0.67}]},
          "mark": {"type": "rule", "color": "black", "strokeWidth": 1.5, "strokeDash": [22, 18]},
          "encoding": {
            "x": {"field": "t", "type": "quantitative", "scale": {"domain": [0.785, 0.848], "range": [973, 1240], "nice": false, "zero": false}, "axis": null},
            "y": {"field": "v", "type": "quantitative", "scale": {"domain": [0.279, 0.67], "range": [381, 260], "nice": false, "zero": false}, "axis": null},
            "y2": {"field": "v2"}
          }
        },
        {
          "data": {"name": "inset_e"},
          "mark": {"type": "line", "strokeWidth": 5},
          "encoding": {
            "x": {"field": "t", "type": "quantitative", "scale": {"domain": [0.785, 0.848], "range": [973, 1240], "nice": false, "zero": false}, "axis": null},
            "y": {"field": "SVPWM", "type": "quantitative", "scale": {"domain": [0.279, 0.67], "range": [381, 260], "nice": false, "zero": false}, "axis": null},
            "color": {"datum": "SVPWM", "type": "nominal"}
          }
        },
        {
          "data": {"name": "inset_e"},
          "mark": {"type": "line", "strokeWidth": 5},
          "encoding": {
            "x": {"field": "t", "type": "quantitative", "scale": {"domain": [0.785, 0.848], "range": [973, 1240], "nice": false, "zero": false}, "axis": null},
            "y": {"field": "RPWM", "type": "quantitative", "scale": {"domain": [0.279, 0.67], "range": [381, 260], "nice": false, "zero": false}, "axis": null},
            "color": {"datum": "RPWM", "type": "nominal"}
          }
        }
      ],
      "resolve": {"scale": {"x": "independent", "y": "independent"}}
    }
  ]
}
